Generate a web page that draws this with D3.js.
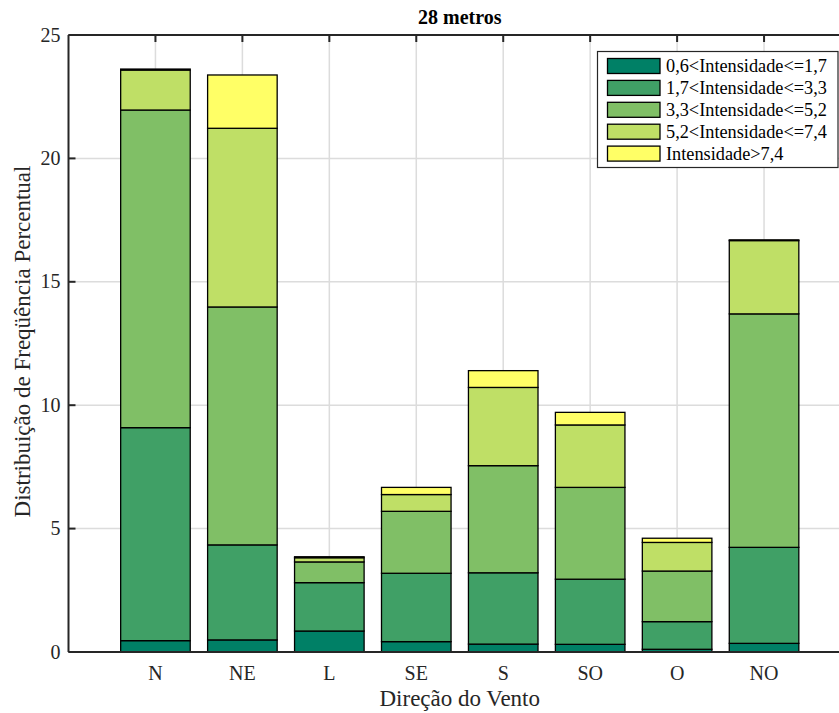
<!DOCTYPE html>
<html>
<head>
<meta charset="utf-8">
<script src="https://cdn.jsdelivr.net/npm/d3@7"></script>
<style>
html,body{margin:0;padding:0;background:#fff;}
svg{display:block;font-family:"Liberation Serif","Times New Roman",serif;}
</style>
</head>
<body>
<svg id="chart" width="839" height="713"></svg>
<script>
const categories = ["N","NE","L","SE","S","SO","O","NO"];
const seriesNames = ["0,6<Intensidade<=1,7","1,7<Intensidade<=3,3","3,3<Intensidade<=5,2","5,2<Intensidade<=7,4","Intensidade>7,4"];
const s1 = [0.46, 0.49, 0.85, 0.42, 0.32, 0.31, 0.11, 0.35];
const s2 = [8.63, 3.85, 1.96, 2.77, 2.89, 2.64, 1.12, 3.89];
const s3 = [12.87, 9.64, 0.84, 2.51, 4.34, 3.72, 2.05, 9.46];
const s4 = [1.62, 7.24, 0.17, 0.68, 3.17, 2.53, 1.16, 2.97];
const s5 = [0.04, 2.16, 0.04, 0.29, 0.68, 0.51, 0.17, 0.03];
const yTicks = [0,5,10,15,20,25];
const colors = ["#008066","#40A066","#80BF66","#BFDF66","#FFFF66"];

(function(){
const series = [s1,s2,s3,s4,s5];
const svg = d3.select("#chart");
const pL = 68.5, pR = 851, pT = 35, pB = 652;
const x = d3.scaleLinear().domain([0, 9]).range([pL, pR]);
const y = d3.scaleLinear().domain([0, 25]).range([pB, pT]);
const bw = (x(1) - x(0)) * 0.8;

svg.append("defs").append("clipPath").attr("id","clip")
  .append("rect").attr("x", pL).attr("y", pT).attr("width", pR-pL).attr("height", pB-pT);

const g = svg.append("g").attr("clip-path","url(#clip)");

// grid
g.selectAll(null).data(yTicks).enter().append("line")
  .attr("x1", pL).attr("x2", pR).attr("y1", d=>y(d)).attr("y2", d=>y(d))
  .attr("stroke","#dcdcdc").attr("stroke-width",1.5);
g.selectAll(null).data(categories).enter().append("line")
  .attr("x1", (d,i)=>x(i+1)).attr("x2", (d,i)=>x(i+1)).attr("y1", pT).attr("y2", pB)
  .attr("stroke","#dcdcdc").attr("stroke-width",1.5);

// stacked bars
const rows = categories.map((c,i)=>{ const o={cat:c,idx:i}; seriesNames.forEach((s,k)=>o[s]=series[k][i]); return o; });
const stack = d3.stack().keys(seriesNames)(rows);
stack.forEach((layer,k)=>{
  g.selectAll(null).data(layer).enter().append("rect")
    .attr("x", d=>x(d.data.idx+1)-bw/2)
    .attr("width", bw)
    .attr("y", d=>y(d[1]))
    .attr("height", d=>Math.max(0, y(d[0])-y(d[1])))
    .attr("fill", colors[k])
    .attr("stroke","#000").attr("stroke-width",1.3);
});

// axes lines
const axc = "#262626";
svg.append("line").attr("x1",pL).attr("x2",839).attr("y1",pT).attr("y2",pT).attr("stroke",axc).attr("stroke-width",2);
svg.append("line").attr("x1",pL).attr("x2",839).attr("y1",pB).attr("y2",pB).attr("stroke",axc).attr("stroke-width",2);
svg.append("line").attr("x1",pL).attr("x2",pL).attr("y1",pT).attr("y2",pB).attr("stroke",axc).attr("stroke-width",2);

// y ticks
yTicks.forEach(t=>{
  svg.append("line").attr("x1",pL).attr("x2",pL+7).attr("y1",y(t)).attr("y2",y(t)).attr("stroke",axc).attr("stroke-width",2);
  svg.append("text").attr("x",pL-8).attr("y",y(t)).attr("dy","0.33em").attr("text-anchor","end")
    .attr("font-size",20).attr("fill","#262626").text(t);
});
// x ticks
categories.forEach((c,i)=>{
  svg.append("line").attr("x1",x(i+1)).attr("x2",x(i+1)).attr("y1",pT).attr("y2",pT+7).attr("stroke",axc).attr("stroke-width",2);
  svg.append("text").attr("x",x(i+1)).attr("y",679.5).attr("text-anchor","middle")
    .attr("font-size",20).attr("fill","#262626").text(c);
});

// labels
const cx = (pL+pR)/2;
svg.append("text").attr("x",cx).attr("y",24).attr("text-anchor","middle").attr("font-weight","bold")
  .attr("font-size",20).attr("fill","#000").text("28 metros");
svg.append("text").attr("x",cx).attr("y",706).attr("text-anchor","middle")
  .attr("font-size",23).attr("fill","#262626").text("Direção do Vento");
svg.append("text").attr("transform",`translate(30,${(pT+pB)/2 - 2}) rotate(-90)`).attr("text-anchor","middle")
  .attr("font-size",23).attr("fill","#262626").text("Distribuição de Freqüência Percentual");

// legend
const lg = svg.append("g");
lg.append("rect").attr("x",597.5).attr("y",51.5).attr("width",240.5).attr("height",116)
  .attr("fill","#fff").attr("stroke","#262626").attr("stroke-width",1.2);
seriesNames.forEach((s,k)=>{
  const yy = 58.5 + k*21.9;
  lg.append("rect").attr("x",607.5).attr("y",yy).attr("width",52.5).attr("height",15)
    .attr("fill",colors[k]).attr("stroke","#000").attr("stroke-width",1.3);
  lg.append("text").attr("x",666).attr("y",yy+7.5).attr("dy","0.35em")
    .attr("font-size",18.3).attr("fill","#000").text(s);
});
})();
</script>
</body>
</html>
